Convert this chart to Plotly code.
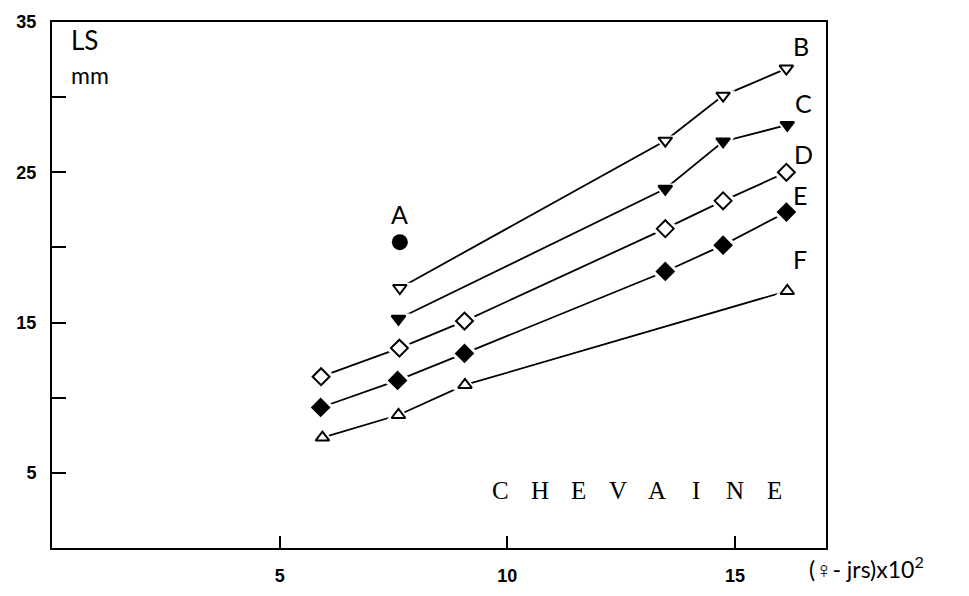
import plotly.graph_objects as go

# ---- data ----
x_A = [7.64]
y_A = [20.35]
x_B = [7.64, 13.47, 14.74, 16.13]
y_B = [17.3, 27.1, 30.1, 31.9]
x_C = [7.61, 13.47, 14.74, 16.15]
y_C = [15.25, 23.9, 27.05, 28.15]
x_D = [5.91, 7.63, 9.06, 13.47, 14.74, 16.13]
y_D = [11.4, 13.3, 15.1, 21.25, 23.1, 25.0]
x_E = [5.90, 7.59, 9.06, 13.47, 14.74, 16.13]
y_E = [9.35, 11.15, 12.95, 18.4, 20.15, 22.35]
x_F = [5.94, 7.61, 9.07, 16.15]
y_F = [7.35, 8.85, 10.85, 17.1]

y_tickvals = [5, 15, 25, 35]
y_ticktext = ["5", "15", "25", "35"]
x_tickvals = [5, 10, 15]
x_ticktext = ["5", "10", "15"]

series_labels = ["A", "B", "C", "D", "E", "F"]
label_x = [7.64, 16.45, 16.5, 16.5, 16.43, 16.43]
label_y = [22.2, 33.4, 29.6, 26.25, 23.5, 19.2]
title_word = "CHEVAINE"

series = [
    (x_B, y_B, "triangle-down-open", "triangle-down", 12),
    (x_C, y_C, "triangle-down", "triangle-down", 12),
    (x_D, y_D, "diamond-open", "diamond", 13),
    (x_E, y_E, "diamond", "diamond", 13),
    (x_F, y_F, "triangle-up-open", "triangle-up", 12),
]

fig = go.Figure()

# lines
for xs, ys, sym, halo, sz in series:
    fig.add_trace(go.Scatter(x=xs, y=ys, mode="lines",
                             line=dict(color="black", width=1.8),
                             hoverinfo="skip", showlegend=False))
# white halos to create gaps between lines and markers
for xs, ys, sym, halo, sz in series:
    fig.add_trace(go.Scatter(x=xs, y=ys, mode="markers",
                             marker=dict(symbol=halo, size=sz + 9, color="white",
                                         line=dict(width=0)),
                             hoverinfo="skip", showlegend=False))
# markers
for xs, ys, sym, halo, sz in series:
    fig.add_trace(go.Scatter(x=xs, y=ys, mode="markers",
                             marker=dict(symbol=sym, size=sz, color="black",
                                         line=dict(color="black", width=2)),
                             showlegend=False))
fig.add_trace(go.Scatter(x=x_A, y=y_A, mode="markers",
                         marker=dict(symbol="circle", size=16, color="black"),
                         showlegend=False))

ann = []
for t, lx, ly in zip(series_labels, label_x, label_y):
    ann.append(dict(x=lx, y=ly, xref="x", yref="y", text=t, showarrow=False,
                    font=dict(family="Lato", size=25, color="black")))

ann.append(dict(x=0.022, y=0.965, xref="paper", yref="paper", text="LS",
                showarrow=False, xanchor="left", yanchor="middle",
                font=dict(family="Lato", size=26, color="black")))
ann.append(dict(x=0.022, y=0.9, xref="paper", yref="paper", text="mm",
                showarrow=False, xanchor="left", yanchor="middle",
                font=dict(family="Lato", size=23, color="black")))

# CHEVAINE letter-spaced
for i, ch in enumerate(title_word):
    ann.append(dict(x=9.85 + i * 0.86, y=3.8, xref="x", yref="y", text=ch,
                    showarrow=False,
                    font=dict(family="Liberation Serif", size=25, color="black")))

ann.append(dict(x=0.975, y=-0.037, xref="paper", yref="paper",
                text="(\u2640- jrs)x10<sup>2</sup>", showarrow=False,
                xanchor="left", yanchor="middle",
                font=dict(family="Lato", size=23, color="black")))

tick_font = dict(family="Liberation Sans", size=18, color="black", weight="bold")

# the page adds an 8px body margin, so the figure is sized/offset to compensate
fig.update_layout(
    width=961, height=588,
    margin=dict(l=44, r=143, t=14, b=48),
    paper_bgcolor="white", plot_bgcolor="white",
    annotations=ann,
    xaxis=dict(range=[0, 17], tickvals=x_tickvals, ticktext=x_ticktext,
               ticks="inside", ticklen=12, tickwidth=2, tickcolor="black",
               showline=True, linecolor="black", linewidth=2, mirror=True,
               showgrid=False, zeroline=False, automargin=False,
               ticklabelstandoff=10, tickfont=tick_font),
    yaxis=dict(range=[0, 35], tickvals=y_tickvals, ticktext=y_ticktext,
               ticks="inside", ticklen=14, tickwidth=2, tickcolor="black",
               minor=dict(tick0=0, dtick=10, ticks="inside", ticklen=14,
                          tickwidth=2, tickcolor="black", showgrid=False),
               showline=True, linecolor="black", linewidth=2, mirror=True,
               showgrid=False, zeroline=False, automargin=False,
               ticklabelstandoff=10, tickfont=tick_font),
)

fig.write_html("out.html")
